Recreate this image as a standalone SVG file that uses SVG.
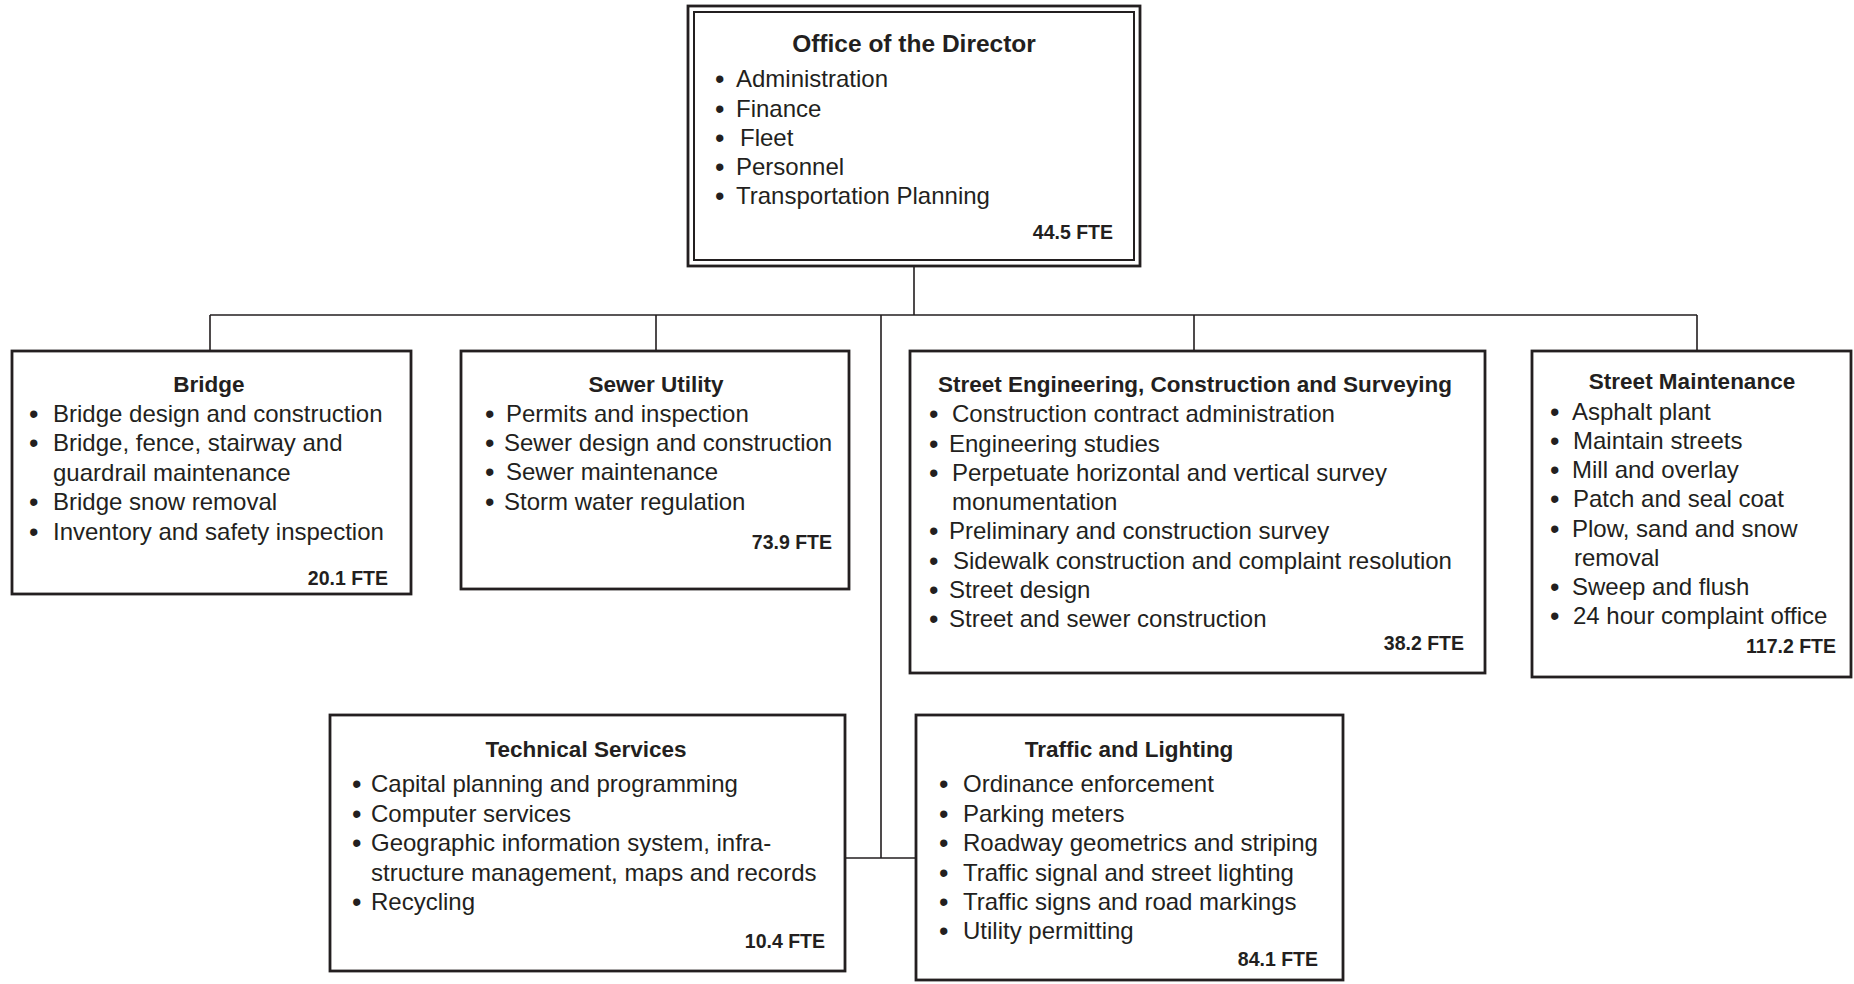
<svg xmlns="http://www.w3.org/2000/svg" width="1854" height="984" viewBox="0 0 1854 984">
<style>
.box{fill:#fff;stroke:#231f20;stroke-width:2.8}
.in{fill:none;stroke:#231f20;stroke-width:2}
.ln{fill:none;stroke:#231f20;stroke-width:1.6}
.t{font-family:"Liberation Sans",Arial,sans-serif;font-weight:bold;font-size:22.5px;fill:#231f20;text-anchor:middle}
.tt{font-family:"Liberation Sans",Arial,sans-serif;font-weight:bold;font-size:24.5px;fill:#231f20;text-anchor:middle}
.b{font-family:"Liberation Sans",Arial,sans-serif;font-size:24px;fill:#231f20}
.d{font-size:27px}
.f{font-family:"Liberation Sans",Arial,sans-serif;font-weight:bold;font-size:19.5px;fill:#231f20;text-anchor:end}
</style>
<rect width="1854" height="984" fill="#fff"/>
<g id="connectors">
<path class="ln" d="M914 266V315M210 315H1697M210 315V351M656 315V351M1194 315V351M1697 315V351M881 315V858M845 858H916"/>
</g>
<g id="director">
<rect class="box" x="688" y="6" width="452" height="260" stroke-width="3"/>
<rect class="in" x="694" y="12" width="440" height="248"/>
<text class="tt" x="914" y="52">Office of the Director</text>
<text class="b"><tspan class="d" x="715" y="88">•</tspan><tspan x="736" y="87">Administration</tspan></text>
<text class="b"><tspan class="d" x="715" y="117.5">•</tspan><tspan x="736" y="116.5">Finance</tspan></text>
<text class="b"><tspan class="d" x="715" y="147">•</tspan><tspan x="740" y="146">Fleet</tspan></text>
<text class="b"><tspan class="d" x="715" y="176">•</tspan><tspan x="736" y="175">Personnel</tspan></text>
<text class="b"><tspan class="d" x="715" y="205">•</tspan><tspan x="736" y="204">Transportation Planning</tspan></text>
<text class="f" x="1113" y="239">44.5 FTE</text>
</g>
<g id="bridge">
<rect class="box" x="12" y="351" width="399" height="243"/>
<text class="t" x="209" y="392">Bridge</text>
<text class="b"><tspan class="d" x="29" y="423">•</tspan><tspan x="53" y="422">Bridge design and construction</tspan></text>
<text class="b"><tspan class="d" x="29" y="452">•</tspan><tspan x="53" y="451">Bridge, fence, stairway and</tspan></text>
<text class="b" x="53" y="481">guardrail maintenance</text>
<text class="b"><tspan class="d" x="29" y="511">•</tspan><tspan x="53" y="510">Bridge snow removal</tspan></text>
<text class="b"><tspan class="d" x="29" y="541">•</tspan><tspan x="53" y="540">Inventory and safety inspection</tspan></text>
<text class="f" x="388" y="585">20.1 FTE</text>
</g>
<g id="sewer">
<rect class="box" x="461" y="351" width="388" height="238"/>
<text class="t" x="656" y="392">Sewer Utility</text>
<text class="b"><tspan class="d" x="485" y="423">•</tspan><tspan x="506" y="422">Permits and inspection</tspan></text>
<text class="b"><tspan class="d" x="485" y="452">•</tspan><tspan x="504" y="451">Sewer design and construction</tspan></text>
<text class="b"><tspan class="d" x="485" y="481">•</tspan><tspan x="506" y="480">Sewer maintenance</tspan></text>
<text class="b"><tspan class="d" x="485" y="511">•</tspan><tspan x="504" y="510">Storm water regulation</tspan></text>
<text class="f" x="832" y="549">73.9 FTE</text>
</g>
<g id="street-engineering">
<rect class="box" x="910" y="351" width="575" height="322"/>
<text class="t" x="1195" y="392">Street Engineering, Construction and Surveying</text>
<text class="b"><tspan class="d" x="929" y="423">•</tspan><tspan x="952" y="422">Construction contract administration</tspan></text>
<text class="b"><tspan class="d" x="929" y="453">•</tspan><tspan x="949" y="452">Engineering studies</tspan></text>
<text class="b"><tspan class="d" x="929" y="482">•</tspan><tspan x="952" y="481">Perpetuate horizontal and vertical survey</tspan></text>
<text class="b" x="952" y="510">monumentation</text>
<text class="b"><tspan class="d" x="929" y="540">•</tspan><tspan x="949" y="539">Preliminary and construction survey</tspan></text>
<text class="b"><tspan class="d" x="929" y="570">•</tspan><tspan x="953" y="569">Sidewalk construction and complaint resolution</tspan></text>
<text class="b"><tspan class="d" x="929" y="599">•</tspan><tspan x="949" y="598">Street design</tspan></text>
<text class="b"><tspan class="d" x="929" y="628">•</tspan><tspan x="949" y="627">Street and sewer construction</tspan></text>
<text class="f" x="1464" y="650">38.2 FTE</text>
</g>
<g id="street-maintenance">
<rect class="box" x="1532" y="351" width="319" height="326"/>
<text class="t" x="1692" y="389">Street Maintenance</text>
<text class="b"><tspan class="d" x="1550" y="421">•</tspan><tspan x="1572" y="420">Asphalt plant</tspan></text>
<text class="b"><tspan class="d" x="1550" y="450">•</tspan><tspan x="1573" y="449">Maintain streets</tspan></text>
<text class="b"><tspan class="d" x="1550" y="479">•</tspan><tspan x="1572" y="478">Mill and overlay</tspan></text>
<text class="b"><tspan class="d" x="1550" y="508">•</tspan><tspan x="1573" y="507">Patch and seal coat</tspan></text>
<text class="b"><tspan class="d" x="1550" y="538">•</tspan><tspan x="1572" y="537">Plow, sand and snow</tspan></text>
<text class="b" x="1574" y="566">removal</text>
<text class="b"><tspan class="d" x="1550" y="596">•</tspan><tspan x="1572" y="595">Sweep and flush</tspan></text>
<text class="b"><tspan class="d" x="1550" y="625">•</tspan><tspan x="1573" y="624">24 hour complaint office</tspan></text>
<text class="f" x="1836" y="653">117.2 FTE</text>
</g>
<g id="technical-services">
<rect class="box" x="330" y="715" width="515" height="256"/>
<text class="t" x="586" y="757">Technical Services</text>
<text class="b"><tspan class="d" x="352" y="793">•</tspan><tspan x="371" y="792">Capital planning and programming</tspan></text>
<text class="b"><tspan class="d" x="352" y="823">•</tspan><tspan x="371" y="822">Computer services</tspan></text>
<text class="b"><tspan class="d" x="352" y="852">•</tspan><tspan x="371" y="851">Geographic information system, infra-</tspan></text>
<text class="b" x="371" y="881">structure management, maps and records</text>
<text class="b"><tspan class="d" x="352" y="911">•</tspan><tspan x="371" y="910">Recycling</tspan></text>
<text class="f" x="825" y="948">10.4 FTE</text>
</g>
<g id="traffic-lighting">
<rect class="box" x="916" y="715" width="427" height="265"/>
<text class="t" x="1129" y="757">Traffic and Lighting</text>
<text class="b"><tspan class="d" x="939" y="793">•</tspan><tspan x="963" y="792">Ordinance enforcement</tspan></text>
<text class="b"><tspan class="d" x="939" y="823">•</tspan><tspan x="963" y="822">Parking meters</tspan></text>
<text class="b"><tspan class="d" x="939" y="852">•</tspan><tspan x="963" y="851">Roadway geometrics and striping</tspan></text>
<text class="b"><tspan class="d" x="939" y="882">•</tspan><tspan x="963" y="881">Traffic signal and street lighting</tspan></text>
<text class="b"><tspan class="d" x="939" y="911">•</tspan><tspan x="963" y="910">Traffic signs and road markings</tspan></text>
<text class="b"><tspan class="d" x="939" y="940">•</tspan><tspan x="963" y="939">Utility permitting</tspan></text>
<text class="f" x="1318" y="966">84.1 FTE</text>
</g>
</svg>
